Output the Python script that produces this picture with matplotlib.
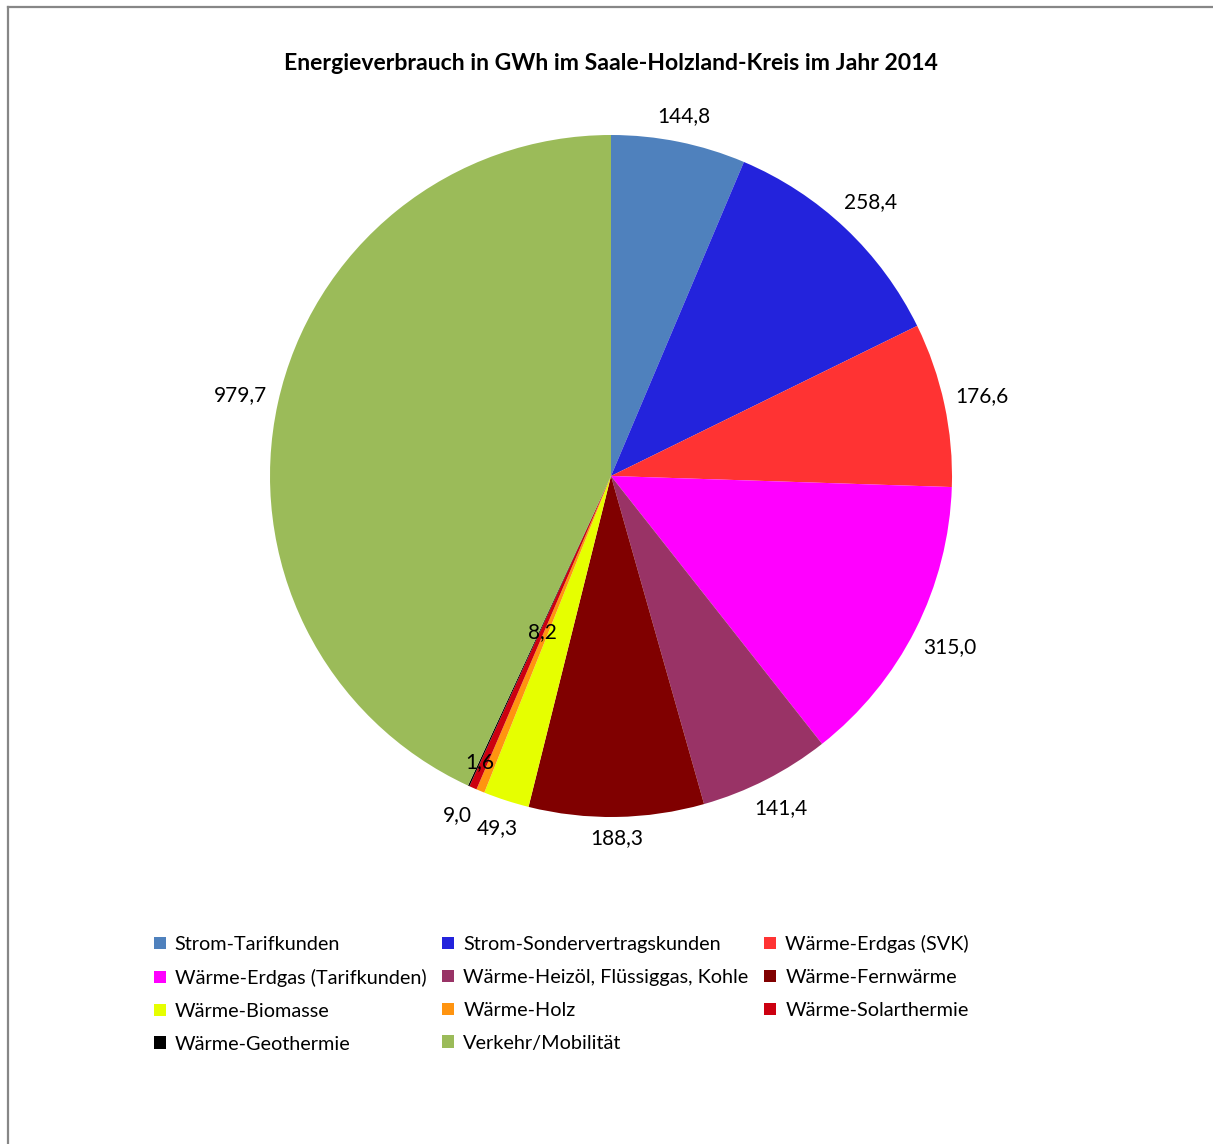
import numpy as np
import matplotlib
matplotlib.use("Agg")
import matplotlib.pyplot as plt
from matplotlib.lines import Line2D

plt.rcParams['font.family'] = ['Lato', 'DejaVu Sans']

# Energieverbrauch 2014 in GWh
categories = ['Strom-Tarifkunden', 'Strom-Sondervertragskunden', 'Wärme-Erdgas (SVK)',
              'Wärme-Erdgas (Tarifkunden)', 'Wärme-Heizöl, Flüssiggas, Kohle', 'Wärme-Fernwärme',
              'Wärme-Biomasse', 'Wärme-Holz', 'Wärme-Solarthermie',
              'Wärme-Geothermie', 'Verkehr/Mobilität']
values = [144.8, 258.4, 176.6, 315.0, 141.4, 188.3, 49.3, 9.0, 8.2, 1.6, 979.7]
colors = ['#4F81BD', '#2323DC', '#FF3333', '#FF00FF', '#993366', '#800000',
          '#E6FF00', '#FF9410', '#CC0010', '#000000', '#9BBB59']
title = 'Energieverbrauch in GWh im Saale-Holzland-Kreis im Jahr 2014'

W, H = 1213, 1144
fig = plt.figure(figsize=(W / 100, H / 100), dpi=100)

# chart frame (only top and left edge visible)
fig.add_artist(Line2D([8 / W, 8 / W], [0, 1 - 7 / H], transform=fig.transFigure,
                      color='#878787', lw=1.6))
fig.add_artist(Line2D([8 / W, 1], [1 - 7 / H, 1 - 7 / H], transform=fig.transFigure,
                      color='#878787', lw=1.6))

R = 341
cx, cy = 611, H - 476
ax = fig.add_axes([(cx - R) / W, (cy - R) / H, 2 * R / W, 2 * R / H])
wedges, _ = ax.pie(values, colors=colors, startangle=90, counterclock=False,
                   radius=1, wedgeprops=dict(linewidth=0))
ax.set_xlim(-1, 1)
ax.set_ylim(-1, 1)
ax.set_aspect('equal')
ax.axis('off')

# value labels outside the slices, two small ones pulled inside
inside = {8: 0.50, 9: 0.924}
angle_shift = {7: -1.8}
for i, (w, v) in enumerate(zip(wedges, values)):
    ang = np.deg2rad((w.theta1 + w.theta2) / 2 + angle_shift.get(i, 0))
    c, s = np.cos(ang), np.sin(ang)
    if i in inside:
        r = inside[i]
    else:
        r = (R + 9 + abs(c) * 27 + abs(s) * 12) / R
    ax.text(r * c, r * s, f'{v:.1f}'.replace('.', ','), ha='center', va='center',
            fontsize=15, color='black', clip_on=False)

fig.text(611 / W, 1 - 63 / H, title, ha='center', va='center',
         fontsize=16.6, fontweight='bold')

# legend row-wise across 3 columns
order = [0, 3, 6, 9, 1, 4, 7, 10, 2, 5, 8]
leg = fig.legend([wedges[i] for i in order], [categories[i] for i in order],
                 ncol=3, loc='upper left', bbox_to_anchor=(154 / W, 1 - 935 / H),
                 frameon=False, fontsize=14.3, handlelength=0.6, handleheight=0.6,
                 handletextpad=0.45, columnspacing=0.8, labelspacing=0.8,
                 borderaxespad=0, borderpad=0)

fig.savefig('out.png', dpi=100, facecolor='white')
